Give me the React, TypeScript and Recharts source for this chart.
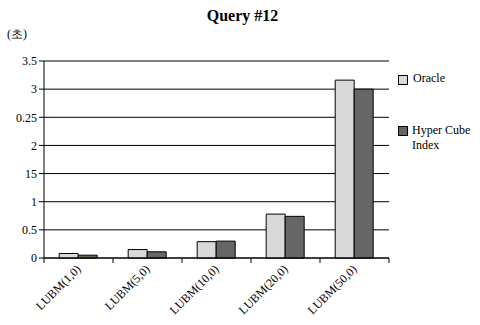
import React from "react";
import { BarChart, Bar, XAxis, YAxis, CartesianGrid } from "recharts";

const categories = ["LUBM(1,0)", "LUBM(5,0)", "LUBM(10,0)", "LUBM(20,0)", "LUBM(50,0)"];
const oracle = [0.08, 0.15, 0.29, 0.78, 3.16];
const hyperCube = [0.05, 0.11, 0.3, 0.74, 3.0];
const yTicks = [0, 0.5, 1, 1.5, 2, 2.5, 3, 3.5];
// labels as printed in the source figure (typos kept)
const yTickLabels = ["0", "0.5", "1", "15", "2", "0.25", "3", "3.5"];

const data = categories.map((name, i) => ({ name, oracle: oracle[i], hyper: hyperCube[i] }));

const FONT = "Liberation Serif";

const XTick = (props: any) => {
  const { x, y, payload, index, visibleTicksCount } = props;
  const half = payload && payload.offset ? payload.offset : 34.5;
  const last = index === (visibleTicksCount ?? categories.length) - 1;
  return (
    <g>
      <line x1={x - half} x2={x - half} y1={y} y2={y + 5} stroke="#000" />
      {last && <line x1={x + half} x2={x + half} y1={y} y2={y + 5} stroke="#000" />}
      <text
        x={x + 3}
        y={y + 12}
        textAnchor="end"
        transform={`rotate(-45, ${x + 3}, ${y + 12})`}
        fontFamily={FONT}
        fontSize={12}
        fill="#000"
      >
        {payload.value}
      </text>
    </g>
  );
};

export default function App() {
  return (
    <div style={{ position: "absolute", left: 0, top: 0, width: 480, height: 325, background: "#fff", fontFamily: FONT }}>
      <div style={{ position: "absolute", left: 0, top: 7, width: 485, textAlign: "center", fontWeight: "bold", fontSize: 16 }}>
        Query #12
      </div>
      <div style={{ position: "absolute", left: 7, top: 26, fontSize: 12 }}>(초)</div>
      <BarChart
        width={480}
        height={325}
        data={data}
        margin={{ top: 61, right: 91, left: 0, bottom: 0 }}
        barGap={0}
        barCategoryGap="22%"
      >
        <CartesianGrid vertical={false} stroke="#000" />
        <XAxis
          dataKey="name"
          interval={0}
          height={67}
          tickLine={false}
          tickSize={0}
          tickMargin={0}
          axisLine={{ stroke: "#000" }}
          tick={<XTick />}
        />
        <YAxis
          width={44}
          domain={[0, 3.5]}
          ticks={yTicks}
          interval={0}
          tickFormatter={(v: number) => yTickLabels[yTicks.indexOf(v)]}
          tick={{ fontFamily: FONT, fontSize: 12, fill: "#000" }}
          tickSize={5}
          tickLine={{ stroke: "#000" }}
          axisLine={{ stroke: "#000" }}
        />
        <Bar dataKey="oracle" name="Oracle" fill="#d9d9d9" stroke="#000" strokeWidth={1} isAnimationActive={false} />
        <Bar dataKey="hyper" name="Hyper Cube Index" fill="#666666" stroke="#000" strokeWidth={1} isAnimationActive={false} />
      </BarChart>
      <div style={{ position: "absolute", left: 398, top: 71, width: 82, fontSize: 12, color: "#000", lineHeight: "15px" }}>
        <div style={{ display: "flex", alignItems: "flex-start" }}>
          <span style={{ width: 8, height: 8, background: "#d9d9d9", border: "1px solid #000", marginTop: 4, marginRight: 5, flexShrink: 0 }} />
          <span>Oracle</span>
        </div>
        <div style={{ display: "flex", alignItems: "flex-start", marginTop: 37 }}>
          <span style={{ width: 8, height: 8, background: "#666666", border: "1px solid #000", marginTop: 3, marginRight: 4, flexShrink: 0 }} />
          <span>Hyper Cube<br />Index</span>
        </div>
      </div>
    </div>
  );
}
